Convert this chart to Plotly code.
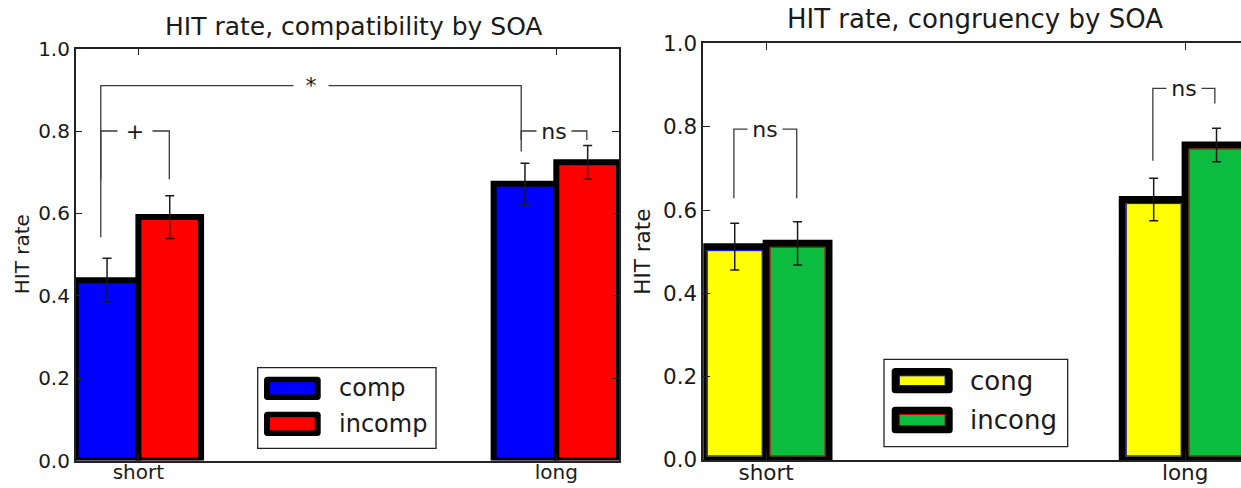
import plotly.graph_objects as go

# ------------------------------------------------------------------
# Data
# ------------------------------------------------------------------
soa_levels = ["short", "long"]

# compatibility panel (mean HIT rate and SEM per SOA)
comp_rate = [0.438, 0.672]
comp_sem = [0.053, 0.050]
incomp_rate = [0.591, 0.724]
incomp_sem = [0.052, 0.041]

# congruency panel
cong_rate = [0.512, 0.625]
cong_sem = [0.056, 0.051]
incong_rate = [0.520, 0.756]
incong_sem = [0.052, 0.040]

# significance brackets: label, left/right leg x, leg bottoms, bracket height
compat_sig_label = ["*", "+", "ns"]
compat_sig_x1 = [-0.090, -0.090, 0.916]
compat_sig_x2 = [0.916, 0.074, 1.073]
compat_sig_y1 = [0.542, 0.683, 0.778]
compat_sig_y2 = [0.750, 0.683, 0.778]
compat_sig_top = [0.910, 0.800, 0.800]

congr_sig_label = ["ns", "ns"]
congr_sig_x1 = [-0.077, 0.923]
congr_sig_x2 = [0.073, 1.071]
congr_sig_y1 = [0.628, 0.718]
congr_sig_y2 = [0.628, 0.856]
congr_sig_top = [0.794, 0.892]

y_ticks = [0.0, 0.2, 0.4, 0.6, 0.8, 1.0]

# ------------------------------------------------------------------
# Layout constants (pixels)
# ------------------------------------------------------------------
FIG_W, FIG_H = 1241, 488
FONT = "DejaVu Sans"
INK = "#1a1a1a"
AXIS = "#222222"
BAR_W = 0.15


def fx(px):
    return px / FIG_W


def fy(py):
    return 1 - py / FIG_H


def rrect(x0, y0, x1, y1, r):
    """Rounded rectangle path in paper coordinates from pixel corners."""
    rx, ry = r / FIG_W, r / FIG_H
    X0, X1, T, B = fx(x0), fx(x1), fy(y0), fy(y1)
    return (f"M{X0 + rx},{T} L{X1 - rx},{T} Q{X1},{T} {X1},{T - ry} "
            f"L{X1},{B + ry} Q{X1},{B} {X1 - rx},{B} L{X0 + rx},{B} "
            f"Q{X0},{B} {X0},{B + ry} L{X0},{T - ry} Q{X0},{T} {X0 + rx},{T} Z")


panels = [
    dict(
        xa="x", ya="y", xdom=(75.7, 619.0), ydom=(460.6, 48.6), xrange=[-0.15, 1.15],
        names=["comp", "incomp"], rates=[comp_rate, incomp_rate], sems=[comp_sem, incomp_sem],
        fills=["#0000ff", "#ff0000"], outlines=[None, None], edge=6,
        sig=(compat_sig_label, compat_sig_x1, compat_sig_x2, compat_sig_y1,
             compat_sig_y2, compat_sig_top),
        title="HIT rate, compatibility by SOA", title_xy=(353, 26), title_size=25,
        ylab_xy=(21.7, 254.6), ylab_size=20, tick_size=20, mirror_y="ticks",
        legend_box=(257.7, 367.7, 436.0, 448.3), sw_x=(264.0, 320.7),
        sw_rows=[(376.7, 400.0), (411.7, 436.0)], sw_inset=(6.5, 6.0),
        leg_text_x=336.7, leg_size=24,
    ),
    dict(
        xa="x2", ya="y2", xdom=(703.3, 1241.0), ydom=(459.9, 43.4), xrange=[-0.15, 1.1334],
        names=["cong", "incong"], rates=[cong_rate, incong_rate], sems=[cong_sem, incong_sem],
        fills=["#ffff00", "#0cbc3e"], outlines=["#0000ff", "#c00000"], edge=7,
        sig=(congr_sig_label, congr_sig_x1, congr_sig_x2, congr_sig_y1,
             congr_sig_y2, congr_sig_top),
        title="HIT rate, congruency by SOA", title_xy=(975, 19), title_size=26,
        ylab_xy=(643, 251.7), ylab_size=21.5, tick_size=21.5, mirror_y=False,
        legend_box=(884.0, 359.3, 1067.7, 446.7), sw_x=(891.7, 952.7),
        sw_rows=[(368.0, 393.3), (406.7, 433.3)], sw_inset=(7.6, 7.8),
        leg_text_x=968.3, leg_size=26,
    ),
]

fig = go.Figure()
annotations = []
shapes = []
layout_axes = {}

for k, P in enumerate(panels):
    xa, ya = P["xa"], P["ya"]
    pos = list(range(len(soa_levels)))
    offsets = [-BAR_W, 0.0]
    dx = (P["xrange"][1] - P["xrange"][0]) / (P["xdom"][1] - P["xdom"][0])
    dy = 1.0 / (P["ydom"][0] - P["ydom"][1])

    # bars with heavy black outline
    for name, rate, fill, outline, off in zip(P["names"], P["rates"], P["fills"],
                                              P["outlines"], offsets):
        fig.add_trace(go.Bar(
            x=pos, y=rate, width=BAR_W, offset=off, name=name,
            marker=dict(color=fill, line=dict(color="black", width=P["edge"])),
            xaxis=xa, yaxis=ya, showlegend=False,
        ))
        if outline:
            # thin coloured rim just inside the black outline
            ix, iy = 4 * dx, 4 * dy
            fig.add_trace(go.Bar(
                x=pos, y=[v - 2 * iy for v in rate], base=iy,
                width=BAR_W - 2 * ix, offset=off + ix, name=name,
                marker=dict(color=fill, line=dict(color=outline, width=1)),
                xaxis=xa, yaxis=ya, showlegend=False, hoverinfo="skip",
            ))

    # error bars at the bar centres
    for name, rate, sem, off in zip(P["names"], P["rates"], P["sems"], offsets):
        fig.add_trace(go.Scatter(
            x=[p + off + BAR_W / 2 for p in pos], y=rate, mode="markers", name=name,
            marker=dict(size=2, color="rgba(0,0,0,0)"),
            error_y=dict(type="data", array=sem, visible=True, color=INK,
                         thickness=1.5, width=4.5),
            xaxis=xa, yaxis=ya, showlegend=False,
        ))

    # significance brackets
    labels, x1s, x2s, y1s, y2s, tops = P["sig"]
    for lab, x1, x2, y1, y2, top in zip(labels, x1s, x2s, y1s, y2s, tops):
        fig.add_trace(go.Scatter(
            x=[x1, x1, x2, x2], y=[y1, top, top, y2], mode="lines",
            line=dict(color="#3a3a3a", width=1.3), xaxis=xa, yaxis=ya,
            showlegend=False, hoverinfo="skip",
        ))
        annotations.append(dict(
            x=(x1 + x2) / 2, y=top, xref=xa, yref=ya, text=lab, showarrow=False,
            xanchor="center", yanchor="middle", bgcolor="white", width=32,
            font=dict(family=FONT, size=22, color=INK),
        ))

    # title and y label
    annotations.append(dict(
        x=fx(P["title_xy"][0]), y=fy(P["title_xy"][1]), xref="paper", yref="paper",
        text=P["title"], showarrow=False, xanchor="center", yanchor="middle",
        font=dict(family=FONT, size=P["title_size"], color=INK),
    ))
    annotations.append(dict(
        x=fx(P["ylab_xy"][0]), y=fy(P["ylab_xy"][1]), xref="paper", yref="paper",
        text="HIT rate", textangle=-90, showarrow=False, xanchor="center",
        yanchor="middle", font=dict(family=FONT, size=P["ylab_size"], color=INK),
    ))

    # legend drawn as framed swatches
    bx0, by0, bx1, by1 = P["legend_box"]
    shapes.append(dict(type="rect", xref="paper", yref="paper", x0=fx(bx0), x1=fx(bx1),
                       y0=fy(by1), y1=fy(by0), fillcolor="white",
                       line=dict(color=AXIS, width=1.3), layer="above"))
    sx0, sx1 = P["sw_x"]
    inx, iny = P["sw_inset"]
    for (ry0, ry1), name, fill, outline in zip(P["sw_rows"], P["names"], P["fills"],
                                               P["outlines"]):
        shapes.append(dict(type="path", xref="paper", yref="paper",
                           path=rrect(sx0, ry0, sx1, ry1, 3.5), fillcolor="black",
                           line=dict(width=0), layer="above"))
        shapes.append(dict(type="rect", xref="paper", yref="paper",
                           x0=fx(sx0 + inx), x1=fx(sx1 - inx),
                           y0=fy(ry1 - iny), y1=fy(ry0 + iny), fillcolor=fill,
                           line=dict(color=outline or fill, width=1), layer="above"))
        annotations.append(dict(
            x=fx(P["leg_text_x"]), y=fy((ry0 + ry1) / 2), xref="paper", yref="paper",
            text=name, showarrow=False, xanchor="left", yanchor="middle",
            font=dict(family=FONT, size=P["leg_size"], color=INK),
        ))

    # axes
    suffix = "" if k == 0 else str(k + 1)
    tickfont = dict(family=FONT, size=P["tick_size"], color=INK)
    layout_axes["xaxis" + suffix] = dict(
        domain=[fx(P["xdom"][0]), fx(P["xdom"][1])], range=P["xrange"],
        anchor=ya, tickvals=pos, ticktext=soa_levels, ticks="inside", ticklen=7,
        tickwidth=1.3, tickcolor=AXIS, showline=True, linecolor=AXIS, linewidth=1.5,
        mirror="ticks", showgrid=False, zeroline=False, tickfont=tickfont,
        ticklabelstandoff=-7, automargin=False, fixedrange=True,
    )
    layout_axes["yaxis" + suffix] = dict(
        domain=[fy(P["ydom"][0]), fy(P["ydom"][1])], range=[0, 1], anchor=xa,
        tickvals=y_ticks, tickformat=".1f", ticks="inside", ticklen=7, tickwidth=1.3,
        tickcolor=AXIS, showline=True, linecolor=AXIS, linewidth=1.5,
        mirror=P["mirror_y"], showgrid=False, zeroline=False, tickfont=tickfont,
        automargin=False, fixedrange=True,
    )

fig.update_layout(
    template="none",
    width=FIG_W, height=FIG_H, autosize=False,
    margin=dict(l=0, r=0, t=0, b=0, pad=0),
    paper_bgcolor="white", plot_bgcolor="white",
    barmode="overlay", showlegend=False,
    font=dict(family=FONT, color=INK),
    annotations=annotations, shapes=shapes,
    **layout_axes,
)

fig.write_html("out.html", config={"displayModeBar": False})
